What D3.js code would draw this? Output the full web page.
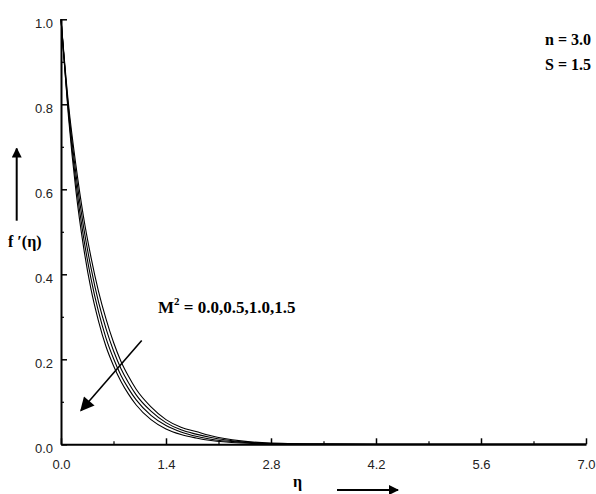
<!DOCTYPE html>
<html lang="en">
<head>
<meta charset="UTF-8">
<title>f'(eta) profiles</title>
<script src="https://d3js.org/d3.v7.min.js"></script>
<style>
    body { margin: 0; background: #fff; }
    svg { display: block; }
    .tick text { font-family: "Liberation Sans", Arial, sans-serif; font-size: 13px; fill: #222; }
    .lbl { font-family: "Liberation Serif", "Times New Roman", serif; font-weight: bold; fill: #000; }
</style>
</head>
<body>
<script>
const eta = [0, 0.1, 0.2, 0.3, 0.4, 0.5, 0.6, 0.7, 0.8, 0.9, 1.0, 1.2, 1.4, 1.6, 1.8, 2.0, 2.4, 2.8, 3.5, 4.2, 5.6, 7.0];

// f'(eta) for M^2 = 0.0, 0.5, 1.0, 1.5
const fM00 = [1, 0.80, 0.655, 0.535, 0.44, 0.36, 0.295, 0.24, 0.195, 0.16, 0.13, 0.088, 0.058, 0.04, 0.03, 0.02, 0.008, 0.003, 0.0005, 0, 0, 0];
const fM05 = [1, 0.79, 0.635, 0.512, 0.415, 0.335, 0.272, 0.22, 0.178, 0.145, 0.117, 0.078, 0.051, 0.034, 0.024, 0.016, 0.006, 0.002, 0.0004, 0, 0, 0];
const fM10 = [1, 0.78, 0.615, 0.488, 0.39, 0.312, 0.25, 0.202, 0.162, 0.131, 0.105, 0.068, 0.044, 0.029, 0.019, 0.012, 0.005, 0.0015, 0.0003, 0, 0, 0];
const fM15 = [1, 0.77, 0.595, 0.465, 0.365, 0.29, 0.23, 0.185, 0.148, 0.118, 0.093, 0.058, 0.036, 0.023, 0.015, 0.009, 0.003, 0.001, 0.0002, 0, 0, 0];

const xTicks = [0, 1.4, 2.8, 4.2, 5.6, 7.0];
const xMinor = [0.7, 2.1, 3.5, 4.9, 6.3];
const yTicks = [0, 0.2, 0.4, 0.6, 0.8, 1.0];
const yMinor = [0.1, 0.3, 0.5, 0.7, 0.9];

const width = 596, height = 494;

const x = d3.scaleLinear().domain([0, 7]).range([61, 586]);
const y = d3.scaleLinear().domain([0, 1]).range([444.3, 19.3]);

const svg = d3.select("body").append("svg")
    .attr("width", width).attr("height", height);

const defs = svg.append("defs");
defs.append("marker").attr("id", "head")
    .attr("viewBox", "0 0 10 10").attr("refX", 9).attr("refY", 5)
    .attr("markerWidth", 10).attr("markerHeight", 10)
    .attr("markerUnits", "userSpaceOnUse")
    .attr("orient", "auto")
    .append("path").attr("d", "M0,0 L10,5 L0,10 Z").attr("fill", "#000");
defs.append("marker").attr("id", "bighead")
    .attr("viewBox", "0 0 10 10").attr("refX", 9).attr("refY", 5)
    .attr("markerWidth", 17).attr("markerHeight", 14)
    .attr("markerUnits", "userSpaceOnUse")
    .attr("orient", "auto")
    .append("path").attr("d", "M0,0 L10,5 L0,10 Z").attr("fill", "#000");

// minor ticks
svg.append("g").attr("transform", `translate(0,${y(0)})`)
    .call(d3.axisBottom(x).tickValues(xMinor).tickSizeInner(-3).tickSizeOuter(0).tickFormat(""))
    .call(g => g.select(".domain").remove())
    .call(g => g.selectAll(".tick line").attr("stroke-width", 1.2));
svg.append("g").attr("transform", `translate(${x(0)},0)`)
    .call(d3.axisLeft(y).tickValues(yMinor).tickSizeInner(-3).tickSizeOuter(0).tickFormat(""))
    .call(g => g.select(".domain").remove())
    .call(g => g.selectAll(".tick line").attr("stroke-width", 1.2));

// major axes
const xAxis = svg.append("g").attr("transform", `translate(0,${y(0)})`)
    .call(d3.axisBottom(x).tickValues(xTicks).tickFormat(d3.format(".1f"))
        .tickSizeInner(-6).tickSizeOuter(0).tickPadding(15));
xAxis.select(".domain").attr("stroke-width", 2);
xAxis.selectAll(".tick line").attr("stroke-width", 1.5);
xAxis.attr("font-family", null).attr("font-size", null);

const yAxis = svg.append("g").attr("transform", `translate(${x(0)},0)`)
    .call(d3.axisLeft(y).tickValues(yTicks).tickFormat(d3.format(".1f"))
        .tickSizeInner(-6).tickSizeOuter(0).tickPadding(8));
yAxis.select(".domain").attr("stroke-width", 2);
yAxis.selectAll(".tick line").attr("stroke-width", 1.5);
yAxis.selectAll(".tick text").attr("dy", "0.62em");
yAxis.attr("font-family", null).attr("font-size", null);

// curves
const series = [fM00, fM05, fM10, fM15];
const line = d3.line()
    .x((d, i) => x(eta[i]))
    .y(d => y(d))
    .curve(d3.curveMonotoneX);

svg.append("g").selectAll("path")
    .data(series)
    .join("path")
    .attr("d", line)
    .attr("fill", "none")
    .attr("stroke", "#000")
    .attr("stroke-width", 1.1);

// annotations
svg.append("text").attr("class", "lbl").attr("x", 545).attr("y", 45)
    .attr("font-size", 16).text("n = 3.0");
svg.append("text").attr("class", "lbl").attr("x", 545).attr("y", 70)
    .attr("font-size", 16).text("S = 1.5");

const mText = svg.append("text").attr("class", "lbl")
    .attr("x", 158).attr("y", 313).attr("font-size", 17);
mText.append("tspan").text("M");
mText.append("tspan").attr("font-size", 11).attr("dy", -8).text("2");
mText.append("tspan").attr("dy", 8).text(" = 0.0,0.5,1.0,1.5");

// diagonal arrow
svg.append("line")
    .attr("x1", 141.7).attr("y1", 340.5)
    .attr("x2", 81).attr("y2", 410.5)
    .attr("stroke", "#000").attr("stroke-width", 1.6)
    .attr("marker-end", "url(#bighead)");

// y label + arrow
svg.append("line")
    .attr("x1", 16.7).attr("y1", 220.7).attr("x2", 16.7).attr("y2", 148.5)
    .attr("stroke", "#000").attr("stroke-width", 2)
    .attr("marker-end", "url(#head)");
svg.append("text").attr("class", "lbl").attr("x", 8).attr("y", 247)
    .attr("font-size", 16).text("f \u2032(\u03b7)");

// x label + arrow
svg.append("text").attr("class", "lbl").attr("x", 293).attr("y", 487)
    .attr("font-size", 16).text("\u03b7");
svg.append("line")
    .attr("x1", 337).attr("y1", 490).attr("x2", 398).attr("y2", 490)
    .attr("stroke", "#000").attr("stroke-width", 2)
    .attr("marker-end", "url(#head)");
</script>
</body>
</html>
